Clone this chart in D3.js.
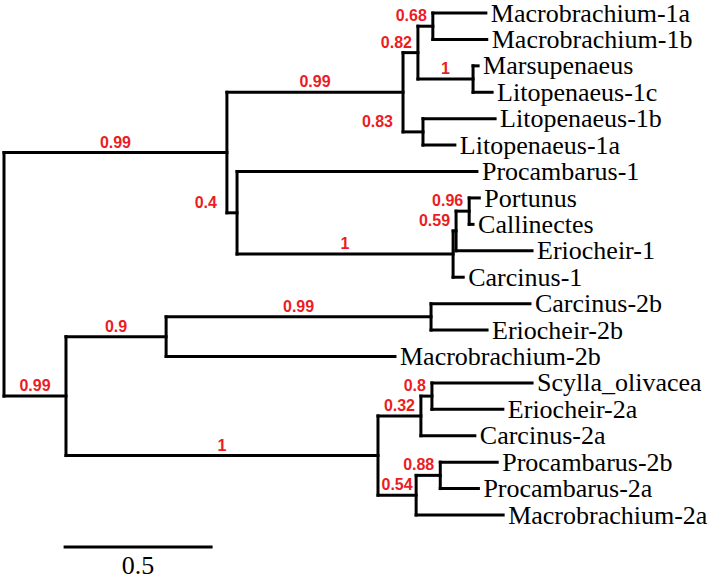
<!DOCTYPE html>
<html>
<head>
<meta charset="utf-8">
<script src="https://cdn.jsdelivr.net/npm/d3@7"></script>
<style>
  html, body { margin: 0; padding: 0; background: #fff; }
  svg { display: block; }
</style>
</head>
<body>
<script>
// ---- Tree data (node id, parent id, branch length, posterior support) ----
const nodeIds = [
  "root",
  "U", "S", "N82", "N68", "Macrobrachium-1a", "Macrobrachium-1b",
  "N1a", "Marsupenaeus", "Litopenaeus-1c",
  "N83", "Litopenaeus-1b", "Litopenaeus-1a",
  "N04", "Procambarus-1", "NC", "N59", "N96", "Portunus", "Callinectes",
  "Eriocheir-1", "Carcinus-1",
  "L", "N9", "N99b", "Carcinus-2b", "Eriocheir-2b", "Macrobrachium-2b",
  "N1b", "N32", "N8", "Scylla_olivacea", "Eriocheir-2a", "Carcinus-2a",
  "N54", "N88", "Procambarus-2b", "Procambarus-2a", "Macrobrachium-2a"
];
const parentIds = [
  null,
  "root", "U", "S", "N82", "N68", "N68",
  "N82", "N1a", "N1a",
  "S", "N83", "N83",
  "U", "N04", "N04", "NC", "N59", "N96", "N96",
  "N59", "NC",
  "root", "L", "N9", "N99b", "N99b", "N9",
  "L", "N1b", "N32", "N8", "N8", "N32",
  "N1b", "N54", "N88", "N88", "N54"
];
const branchLengths = [
  0,
  0.748, 0.591, 0.050, 0.050, 0.178, 0.181,
  0.185, 0.017, 0.064,
  0.067, 0.242, 0.107,
  0.034, 0.805, 0.725, 0.010, 0.044, 0.034, 0.013,
  0.255, 0.034,
  0.208, 0.336, 0.889, 0.332, 0.188, 0.768,
  1.047, 0.144, 0.037, 0.336, 0.238, 0.181,
  0.128, 0.081, 0.191, 0.128, 0.292
];
const supportValues = [
  null,
  "0.99", "0.99", "0.82", "0.68", null, null,
  "1", null, null,
  "0.83", null, null,
  "0.4", null, "1", "0.59", "0.96", null, null,
  null, null,
  "0.99", "0.9", "0.99", null, null, null,
  "1", "0.32", "0.8", null, null, null,
  "0.54", "0.88", null, null, null
];
const scaleBarValue = 0.5;
const scaleBarLabel = "0.5";

// ---- Layout ----
const W = 712, H = 581;
const svg = d3.select("body").append("svg").attr("width", W).attr("height", H);
svg.append("rect").attr("width", W).attr("height", H).attr("fill", "#fff");

const rows = nodeIds.map((id, i) => ({
  id, parent: parentIds[i], length: branchLengths[i], support: supportValues[i]
}));
const root = d3.stratify().id(d => d.id).parentId(d => d.parent)(rows);

const xScale = d3.scaleLinear().domain([0, 1]).range([4, 302]);
const leaves = root.leaves();
const yScale = d3.scalePoint().domain(leaves.map(d => d.id)).range([13, 515]);

root.eachBefore(n => { n.dist = (n.parent ? n.parent.dist : 0) + n.data.length; n.px = xScale(n.dist); });
root.eachAfter(n => {
  n.py = n.children ? (n.children[0].py + n.children[n.children.length - 1].py) / 2 : yScale(n.id);
});

const g = svg.append("g")
  .attr("stroke", "#000").attr("stroke-width", 3).attr("stroke-linecap", "square").attr("fill", "none");

// horizontal branches
root.descendants().filter(n => n.parent).forEach(n => {
  g.append("line").attr("x1", n.parent.px).attr("x2", n.px).attr("y1", n.py).attr("y2", n.py);
});
// vertical connectors
root.descendants().filter(n => n.children).forEach(n => {
  g.append("line").attr("x1", n.px).attr("x2", n.px)
    .attr("y1", n.children[0].py).attr("y2", n.children[n.children.length - 1].py);
});

// leaf labels
svg.append("g").selectAll("text").data(leaves).join("text")
  .attr("x", d => d.px + 5).attr("y", d => d.py).attr("dy", "0.33em")
  .attr("font-family", "'Liberation Serif', 'Times New Roman', serif")
  .attr("font-size", 26).attr("fill", "#000")
  .text(d => d.id);

// support labels
const sg = svg.append("g")
  .attr("font-family", "'Liberation Sans', Arial, sans-serif")
  .attr("font-weight", "bold").attr("font-size", 16).attr("fill", "#ec1c24");
root.descendants().filter(n => n.parent && n.data.support != null).forEach(n => {
  const t = sg.append("text").text(n.data.support).attr("y", n.py - 5);
  const w = t.node().getComputedTextLength();
  const len = n.px - n.parent.px;
  if (w + 4 <= len) {
    t.attr("text-anchor", "middle").attr("x", (n.px + n.parent.px) / 2);
  } else {
    let right = n.px - 6;
    const isFirst = n.parent.children[0] === n;
    if (!isFirst && right - w < n.parent.px + 2) right = n.parent.px - 10;
    t.attr("text-anchor", "end").attr("x", right);
  }
});

// scale bar
const sbStart = 0.2;
svg.append("line")
  .attr("x1", xScale(sbStart)).attr("x2", xScale(sbStart + scaleBarValue))
  .attr("y1", 547).attr("y2", 547)
  .attr("stroke", "#000").attr("stroke-width", 3);
svg.append("text")
  .attr("x", (xScale(sbStart) + xScale(sbStart + scaleBarValue)) / 2).attr("y", 574)
  .attr("text-anchor", "middle")
  .attr("font-family", "'Liberation Serif', 'Times New Roman', serif")
  .attr("font-size", 26).attr("fill", "#000")
  .text(scaleBarLabel);
</script>
</body>
</html>
